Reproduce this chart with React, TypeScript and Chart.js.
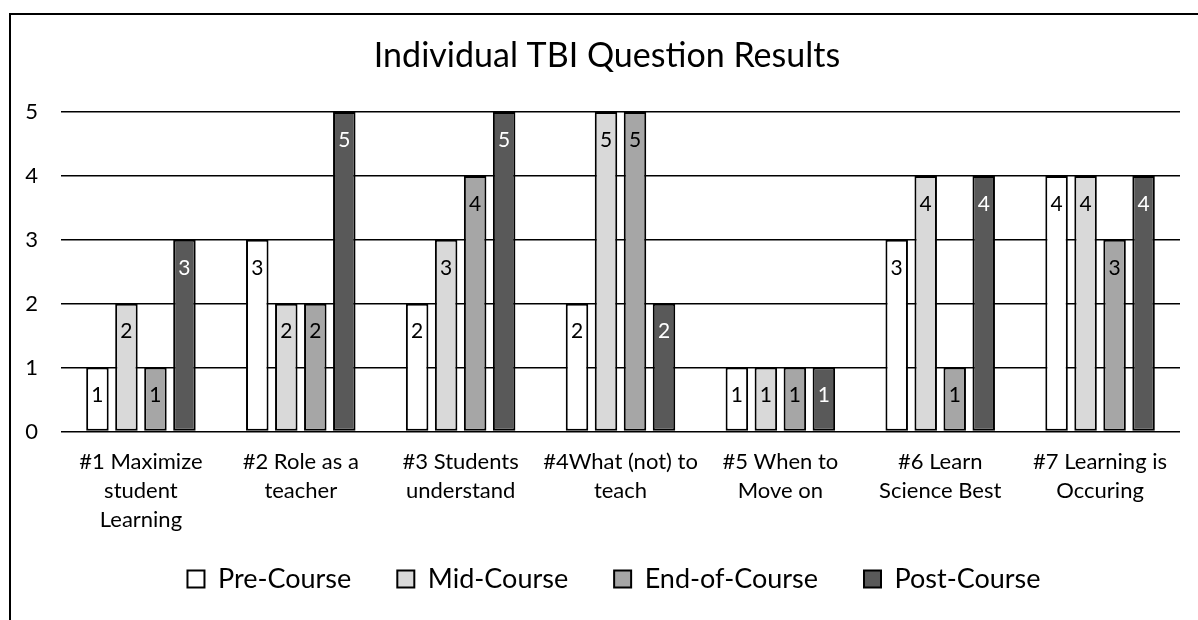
import React, { useEffect, useRef } from "react";
import { Chart, registerables } from "chart.js";

Chart.register(...registerables);

const categories: string[][] = [
  ["#1 Maximize", "student", "Learning"],
  ["#2 Role as a", "teacher"],
  ["#3 Students", "understand"],
  ["#4What (not) to", "teach"],
  ["#5 When to", "Move on"],
  ["#6 Learn", "Science Best"],
  ["#7 Learning is", "Occuring"],
];

const seriesNames = ["Pre-Course", "Mid-Course", "End-of-Course", "Post-Course"];
const preCourse = [1, 3, 2, 2, 1, 3, 4];
const midCourse = [2, 2, 3, 5, 1, 4, 4];
const endOfCourse = [1, 2, 4, 5, 1, 1, 3];
const postCourse = [3, 5, 5, 2, 1, 4, 4];
const yTicks = [0, 1, 2, 3, 4, 5];

const fills = ["#ffffff", "#d9d9d9", "#a6a6a6", "#595959"];
const labelColors = ["#000000", "#000000", "#000000", "#ffffff"];
const FONT = "Lato";

const dataLabelPlugin = {
  id: "insideEndLabels",
  afterDatasetsDraw(chart: any) {
    const ctx = chart.ctx;
    ctx.save();
    ctx.font = `21px ${FONT}`;
    ctx.textAlign = "center";
    ctx.textBaseline = "middle";
    chart.data.datasets.forEach((ds: any, di: number) => {
      const meta = chart.getDatasetMeta(di);
      meta.data.forEach((el: any, i: number) => {
        const v = ds.data[i];
        ctx.fillStyle = labelColors[di];
        ctx.fillText(String(v), el.x, el.y + 28);
      });
    });
    ctx.restore();
  },
};

// let the multi-line category labels extend below the reserved axis box,
// and nudge title / legend horizontally to their places in the original
const layoutTweakPlugin = {
  id: "layoutTweak",
  afterLayout(chart: any) {
    const x = chart.scales.x;
    if (x) x.bottom = x.top + 112;
    if (chart.legend) {
      chart.legend.left += 12;
      chart.legend.right += 12;
    }
    if (chart.titleBlock) {
      chart.titleBlock.left += 5;
      chart.titleBlock.right += 5;
    }
  },
};

export default function App() {
  const ref = useRef<HTMLCanvasElement>(null);
  useEffect(() => {
    if (!ref.current) return;
    Chart.defaults.font.family = FONT;
    Chart.defaults.color = "#000";
    const allSeries = [preCourse, midCourse, endOfCourse, postCourse];
    const chart = new Chart(ref.current, {
      type: "bar",
      data: {
        labels: categories,
        datasets: allSeries.map((d, i) => ({
          label: seriesNames[i],
          data: d,
          backgroundColor: fills[i],
          borderColor: "#000",
          borderWidth: 2,
          borderSkipped: false,
          categoryPercentage: 0.7257,
          barPercentage: 0.776,
        })),
      },
      options: {
        responsive: false,
        animation: false,
        layout: { padding: { left: 24, right: 18, top: 0, bottom: 17.5 } },
        plugins: {
          title: {
            display: true,
            text: "Individual TBI Question Results",
            color: "#000",
            font: { family: FONT, size: 34, weight: "normal" },
            padding: { top: 35.6, bottom: 35.6 },
          },
          legend: {
            position: "bottom",
            labels: {
              boxWidth: 17,
              boxHeight: 17,
              padding: 46,
              color: "#000",
              font: { family: FONT, size: 27 },
            },
          },
          tooltip: { enabled: false },
        },
        scales: {
          x: {
            grid: { display: false, drawTicks: false },
            border: { display: false },
            ticks: {
              padding: 16,
              maxRotation: 0,
              autoSkip: false,
              color: "#000",
              font: { family: FONT, size: 22, lineHeight: 1.32 },
            },
            afterFit: (s: any) => {
              s.height = 620 - 17.5 - (27 + 46 + 10) - 431.5;
            },
          },
          y: {
            min: 0,
            max: 5,
            grid: { color: "#000", lineWidth: 1.5, drawTicks: false },
            border: { display: false },
            ticks: {
              stepSize: 1,
              padding: 23,
              color: "#000",
              font: { family: FONT, size: 22 },
              callback: (v: any) => (yTicks.includes(v) ? String(v) : ""),
            },
            afterFit: (s: any) => {
              s.width = 61 - 24;
            },
          },
        },
      },
      plugins: [dataLabelPlugin, layoutTweakPlugin],
    });
    return () => chart.destroy();
  }, []);

  return (
    <div
      style={{
        position: "absolute",
        left: 0,
        top: 0,
        width: 1198,
        height: 620,
        overflow: "hidden",
        background: "#fff",
      }}
    >
      <div
        style={{
          position: "absolute",
          left: 9,
          top: 13,
          width: 1400,
          height: 800,
          border: "2px solid #000",
        }}
      />
      <canvas
        ref={ref}
        width={1198}
        height={620}
        style={{ position: "absolute", left: 0, top: 0, width: 1198, height: 620 }}
      />
    </div>
  );
}
